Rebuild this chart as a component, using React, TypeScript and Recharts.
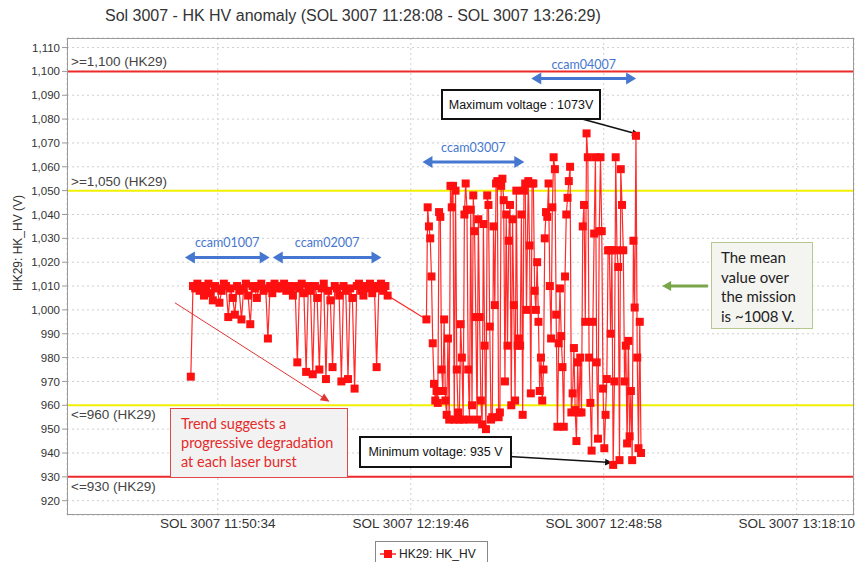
import React from 'react'
import {
  LineChart,
  Line,
  XAxis,
  YAxis,
  CartesianGrid,
  ReferenceLine,
} from 'recharts'

// HV readings per laser campaign, one sample every step seconds from the start time
const burstStarts = ['11:46:29', '11:59:56', '12:22:08', '12:37:33']
const burstSteps = [20, 20, 11.5, 11.5]

const ccam01007 = [
  972, 1010, 1009, 1011, 1008, 1010, 1006, 1009, 1011, 1007, 1004, 1010, 1009, 1003, 1008, 1011,
  1010, 997, 1009, 1005, 998, 1010, 1008, 996, 1009, 1011, 1006, 994, 1010, 1009, 1005, 1010,
  1011, 1008, 1009, 988, 1010, 1007, 1011, 1009,
]
const ccam02007 = [
  1010, 1009, 1011, 1008, 1010, 1009, 1006, 1010, 978, 1009, 1011, 1007, 974, 1010, 1008, 973,
  1010, 1005, 975, 1009, 1011, 971, 1008, 1004, 976, 1010, 1009, 1006, 970, 1010, 1008, 971,
  1009, 1005, 967, 1010, 1011, 1008, 1006, 1010, 1009, 1011, 1007, 1010, 976, 1009, 1011, 1008,
  1010, 1006,
]
const ccam03007 = [
  996, 1043, 1035, 1030, 1014, 986, 969, 962, 966, 961, 1041, 1039, 975, 966, 996, 962, 956, 988,
  954, 1052, 1043, 1052, 954, 1050, 975, 957, 954, 994, 980, 954, 1040, 1053, 1042, 975, 954, 1042,
  960, 1048, 1033, 997, 954, 1038, 997, 962, 952, 1036, 985, 950, 1048, 1044, 993, 954, 955, 1035,
  1002, 1053, 1054, 955, 957, 1052, 1055, 1046, 970, 1040, 985, 1029, 1044, 960, 1038, 1002, 962,
  1050, 985, 988, 985, 1040, 956, 1050, 1053, 1000,
]
const ccam04007 = [
  1054, 1027, 965, 1053, 1053, 1008, 1000, 1020, 995, 966, 980, 962, 975, 1030, 1041, 1039, 1053,
  1010, 988, 1043, 1064, 1059, 998, 951, 986, 1009, 989, 976, 951, 1014, 1040, 1047, 1054, 1060,
  957, 965, 984, 958, 945, 978, 957, 980, 957, 1035, 1044, 995, 1074, 1064, 980, 961, 941, 995,
  1032, 1064, 978, 946, 1033, 1064, 1033, 967, 942, 956, 971, 1025, 1025, 990, 1025, 935, 970,
  1064, 1025, 1018, 937, 1059, 1044, 1025, 970, 985, 944, 987, 947, 966, 937, 1029, 1001, 1073,
  980, 942, 995, 940,
]
const bursts = [ccam01007, ccam02007, ccam03007, ccam04007]

const xTicks = ['11:50:34', '12:19:46', '12:48:58', '13:18:10']
const yTicks = [920, 930, 940, 950, 960, 970, 980, 990, 1000, 1010, 1020, 1030, 1040, 1050, 1060, 1070, 1080, 1090, 1100, 1110]

const limitValues = [1100, 1050, 960, 930]
const limitLabels = ['>=1,100 (HK29)', '>=1,050 (HK29)', '<=960 (HK29)', '<=930 (HK29)']

const campaignNames = ['ccam01007', 'ccam02007', 'ccam03007', 'ccam04007']
const campaignFrom = ['11:45:35', '11:58:53', '12:21:32', '12:38:00']
const campaignTo = ['11:58:25', '12:15:20', '12:36:57', '12:53:52']
const campaignLevel = [1022, 1022, 1062, 1097]

const toSec = (s: string) => {
  const [h, m, sec] = s.split(':').map(Number)
  return h * 3600 + m * 60 + sec
}
const pad = (n: number) => String(n).padStart(2, '0')
const fmtTime = (v: number) =>
  `SOL 3007 ${pad(Math.floor(v / 3600))}:${pad(Math.floor((v % 3600) / 60))}:${pad(Math.round(v % 60))}`

const data = bursts.flatMap((vals, b) =>
  vals.map((hv, i) => ({ t: toSec(burstStarts[b]) + i * burstSteps[b], hv })),
)

const RED = '#ee2a2a'
const YELLOW = '#f2f000'
const BLUE = '#4677d0'
const GREEN = '#7aa64a'

function head(x: number, y: number, ang: number, len: number, half: number, color: string) {
  const bx = x - len * Math.cos(ang)
  const by = y - len * Math.sin(ang)
  const px = half * Math.sin(ang)
  const py = -half * Math.cos(ang)
  return <polygon points={`${x},${y} ${bx + px},${by + py} ${bx - px},${by - py}`} fill={color} />
}

const arrow =
  (color: string, width: number, both: boolean, len: number, half: number, label?: string) =>
  (p: any) => {
    const { x1, y1, x2, y2 } = p
    const ang = Math.atan2(y2 - y1, x2 - x1)
    const sx = both ? x1 + (len - 2) * Math.cos(ang) : x1
    const sy = both ? y1 + (len - 2) * Math.sin(ang) : y1
    const ex = x2 - (len - 2) * Math.cos(ang)
    const ey = y2 - (len - 2) * Math.sin(ang)
    return (
      <g>
        <line x1={sx} y1={sy} x2={ex} y2={ey} stroke={color} strokeWidth={width} />
        {head(x2, y2, ang, len, half, color)}
        {both && head(x1, y1, ang + Math.PI, len, half, color)}
        {label && (
          <text
            x={(x1 + x2) / 2}
            y={y1 - 10}
            textAnchor="middle"
            fontSize={12.5}
            fill={BLUE}
            fontFamily="Lato, sans-serif"
          >
            {label}
          </text>
        )}
      </g>
    )
  }

const limitShape = (label: string, color: string, above: boolean) => (p: any) => (
  <g>
    <line x1={p.x1} y1={p.y1} x2={p.x2} y2={p.y2} stroke={color} strokeWidth={2} />
    <text x={p.x1 + 4} y={above ? p.y1 - 5 : p.y1 + 14} fontSize={13.5} fill="#444">
      {label}
    </text>
  </g>
)

const square = (p: any) => (
  <rect key={`sq-${p.index}`} x={p.cx - 4} y={p.cy - 4} width={8} height={8} fill="#ff1010" />
)

const calibri = 'Lato, "Open Sans", sans-serif'

export default function App() {
  return (
    <div
      style={{
        position: 'absolute',
        left: 0,
        top: 0,
        width: 860,
        height: 562,
        overflow: 'hidden',
        background: '#fff',
        fontFamily: '"Liberation Sans", Arial, sans-serif',
      }}
    >
      <div style={{ position: 'absolute', left: 105, top: 7, fontSize: 16, color: '#333', whiteSpace: 'nowrap' }}>
        Sol 3007 - HK HV anomaly (SOL 3007 11:28:08 - SOL 3007 13:26:29)
      </div>
      <div
        style={{
          position: 'absolute',
          left: 18,
          top: 243,
          transform: 'translate(-50%, -50%) rotate(-90deg)',
          fontSize: 12,
          color: '#333',
          whiteSpace: 'nowrap',
        }}
      >
        HK29: HK_HV (V)
      </div>

      <LineChart
        width={860}
        height={562}
        data={data}
        margin={{ top: 38, right: 6, bottom: 17, left: 7 }}
        style={{ fontFamily: '"Liberation Sans", Arial, sans-serif' }}
      >
        <CartesianGrid stroke="#cfcfcf" strokeDasharray="2 3" />
        <XAxis
          dataKey="t"
          type="number"
          domain={[41265, 48410]}
          ticks={xTicks.map(toSec)}
          tickFormatter={fmtTime}
          axisLine={false}
          tickLine={false}
          tickSize={0}
          tickMargin={3}
          height={30}
          tick={{ fontSize: 13.5, fill: '#333' }}
        />
        <YAxis
          type="number"
          domain={[914, 1114]}
          ticks={yTicks}
          tickFormatter={(v: number) => v.toLocaleString('en-US')}
          axisLine={false}
          tickLine={{ stroke: '#999' }}
          tickSize={5}
          tickMargin={2}
          width={60}
          tick={{ fontSize: 11.5, fill: '#333' }}
        />
        {limitValues.map((v, i) => (
          <ReferenceLine
            key={v}
            y={v}
            shape={limitShape(limitLabels[i], i === 0 || i === 3 ? RED : YELLOW, i < 2)}
          />
        ))}
        {campaignNames.map((name, i) => (
          <ReferenceLine
            key={name}
            segment={[
              { x: toSec(campaignFrom[i]), y: campaignLevel[i] },
              { x: toSec(campaignTo[i]), y: campaignLevel[i] },
            ]}
            shape={arrow(BLUE, 3, true, 10, 6, name)}
          />
        ))}
        <ReferenceLine
          segment={[
            { x: toSec('11:44:04'), y: 1003 },
            { x: toSec('12:07:29'), y: 961.5 },
          ]}
          shape={arrow('#e03535', 1, false, 9, 4)}
        />
        <ReferenceLine
          segment={[
            { x: toSec('12:45:42'), y: 1080 },
            { x: toSec('12:54:19'), y: 1073.5 },
          ]}
          shape={arrow('#111', 1.5, false, 7, 3.5)}
        />
        <ReferenceLine
          segment={[
            { x: toSec('12:34:41'), y: 938.5 },
            { x: toSec('12:50:14'), y: 936 },
          ]}
          shape={arrow('#111', 1.5, false, 7, 3.5)}
        />
        <ReferenceLine
          segment={[
            { x: toSec('13:04:44'), y: 1010 },
            { x: toSec('12:57:48'), y: 1010 },
          ]}
          shape={arrow(GREEN, 3, false, 9, 5)}
        />
        <Line
          dataKey="hv"
          type="linear"
          stroke="#ff2a2a"
          strokeWidth={1.2}
          dot={square}
          activeDot={false}
          isAnimationActive={false}
        />
      </LineChart>

      <div
        style={{
          position: 'absolute',
          left: 67,
          top: 38,
          width: 787,
          height: 477,
          boxSizing: 'border-box',
          border: '1px solid #9a9a9a',
          pointerEvents: 'none',
        }}
      />

      <div
        style={{
          position: 'absolute',
          left: 441,
          top: 89,
          width: 160,
          height: 31,
          boxSizing: 'border-box',
          border: '2px solid #111',
          background: '#fff',
          fontSize: 12.5,
          color: '#111',
          display: 'flex',
          alignItems: 'center',
          justifyContent: 'center',
          whiteSpace: 'nowrap',
        }}
      >
        Maximum voltage : 1073V
      </div>
      <div
        style={{
          position: 'absolute',
          left: 359,
          top: 436,
          width: 153,
          height: 32,
          boxSizing: 'border-box',
          border: '2px solid #111',
          background: '#fff',
          fontSize: 12.5,
          color: '#111',
          display: 'flex',
          alignItems: 'center',
          justifyContent: 'center',
          whiteSpace: 'nowrap',
        }}
      >
        Minimum voltage: 935 V
      </div>
      <div
        style={{
          position: 'absolute',
          left: 170,
          top: 408,
          width: 178,
          height: 70,
          boxSizing: 'border-box',
          border: '1px solid #e04848',
          background: '#f2f2f2',
          color: '#e42a2a',
          fontFamily: calibri,
          fontSize: 14.5,
          lineHeight: '19px',
          padding: '5px 0 0 10px',
          whiteSpace: 'nowrap',
        }}
      >
        Trend suggests a
        <br />
        progressive degradation
        <br />
        at each laser burst
      </div>
      <div
        style={{
          position: 'absolute',
          left: 711,
          top: 242,
          width: 102,
          height: 87,
          boxSizing: 'border-box',
          border: '1px solid #b5c98f',
          background: '#f4f4f1',
          color: '#222',
          fontFamily: calibri,
          fontSize: 15,
          lineHeight: '19.5px',
          padding: '5px 0 0 9px',
        }}
      >
        The mean
        <br />
        value over
        <br />
        the mission
        <br />
        is ~1008 V.
      </div>

      <div
        style={{
          position: 'absolute',
          left: 375,
          top: 541,
          width: 113,
          height: 26,
          boxSizing: 'border-box',
          border: '1px solid #888',
          background: '#fff',
          display: 'flex',
          alignItems: 'center',
          fontSize: 12,
          color: '#222',
        }}
      >
        <svg width={20} height={12} style={{ marginLeft: 2 }}>
          <line x1={2} y1={6} x2={18} y2={6} stroke="#ff2a2a" strokeWidth={1.5} />
          <rect x={6} y={2} width={8} height={8} fill="#ff1010" />
        </svg>
        <span style={{ marginLeft: 1 }}>HK29: HK_HV</span>
      </div>
    </div>
  )
}
